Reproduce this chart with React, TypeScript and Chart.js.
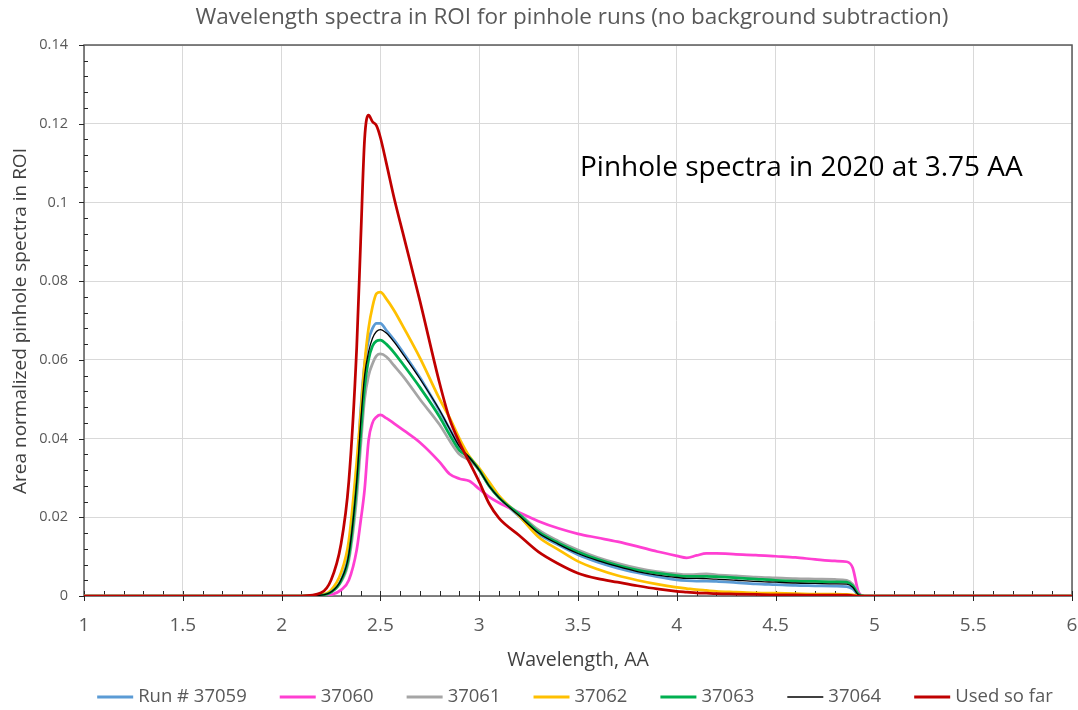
import React, { useEffect, useRef } from "react";
import { Chart, registerables } from "chart.js";
Chart.register(...registerables);

const WAVELENGTH = [1.0, 2.1, 2.2, 2.25, 2.3, 2.34, 2.38, 2.4, 2.42, 2.44, 2.46, 2.48, 2.5, 2.53, 2.57, 2.62, 2.7, 2.8, 2.85, 2.9, 2.95, 3.0, 3.05, 3.1, 3.2, 3.3, 3.4, 3.5, 3.6, 3.7, 3.8, 3.9, 4.0, 4.05, 4.1, 4.15, 4.2, 4.3, 4.4, 4.5, 4.6, 4.7, 4.8, 4.86, 4.89, 4.92, 4.95, 6.0];

const RUN_37059 = [0, 0, 0.0002, 0.001, 0.004, 0.011, 0.03, 0.047, 0.059, 0.065, 0.068, 0.0693, 0.0693, 0.0675, 0.065, 0.0615, 0.0555, 0.047, 0.0425, 0.038, 0.035, 0.0322, 0.028, 0.025, 0.0203, 0.0158, 0.013, 0.0105, 0.0086, 0.0071, 0.0059, 0.0049, 0.0041, 0.0039, 0.0038, 0.0038, 0.0037, 0.0034, 0.0031, 0.0029, 0.0027, 0.0026, 0.0025, 0.0024, 0.0018, 0.0003, 0, 0];
const RUN_37060 = [0, 0, 0, 0.0003, 0.0015, 0.004, 0.0117, 0.019, 0.027, 0.0395, 0.044, 0.0455, 0.046, 0.0452, 0.0438, 0.042, 0.039, 0.034, 0.031, 0.0298, 0.0292, 0.0272, 0.0252, 0.0237, 0.0213, 0.019, 0.0172, 0.0158, 0.0148, 0.0138, 0.0126, 0.0113, 0.0102, 0.0097, 0.0103, 0.0108, 0.0108, 0.0106, 0.0104, 0.0101, 0.0098, 0.0093, 0.0089, 0.0087, 0.0072, 0.001, 0, 0];
const RUN_37061 = [0, 0, 0.0002, 0.001, 0.0035, 0.009, 0.025, 0.038, 0.05, 0.056, 0.059, 0.061, 0.0615, 0.0608, 0.0585, 0.0555, 0.05, 0.0435, 0.0395, 0.036, 0.0345, 0.032, 0.028, 0.025, 0.021, 0.0168, 0.014, 0.0117, 0.0098, 0.0083, 0.0071, 0.0062, 0.0056, 0.0054, 0.0055, 0.0056, 0.0054, 0.0051, 0.0048, 0.0046, 0.0044, 0.0043, 0.0042, 0.004, 0.003, 0.0005, 0, 0];
const RUN_37062 = [0, 0, 0.0003, 0.0015, 0.0058, 0.014, 0.034, 0.046, 0.059, 0.068, 0.0735, 0.0768, 0.0772, 0.0755, 0.0725, 0.068, 0.0605, 0.05, 0.0453, 0.04, 0.0355, 0.0325, 0.029, 0.0255, 0.0205, 0.015, 0.0118, 0.0088, 0.0068, 0.0052, 0.004, 0.003, 0.0022, 0.0019, 0.0016, 0.0014, 0.0012, 0.001, 0.0008, 0.0007, 0.0006, 0.0005, 0.0005, 0.0004, 0.0003, 0.0001, 0, 0];
const RUN_37063 = [0, 0, 0.0002, 0.001, 0.0038, 0.01, 0.028, 0.041, 0.053, 0.06, 0.0635, 0.0648, 0.065, 0.064, 0.0618, 0.0585, 0.053, 0.0455, 0.041, 0.037, 0.0352, 0.032, 0.028, 0.025, 0.0208, 0.0163, 0.0135, 0.0112, 0.0093, 0.0078, 0.0066, 0.0058, 0.0052, 0.005, 0.005, 0.005, 0.0049, 0.0046, 0.0043, 0.004, 0.0038, 0.0037, 0.0036, 0.0035, 0.0026, 0.0004, 0, 0];
const RUN_37064 = [0, 0, 0.0002, 0.001, 0.004, 0.0105, 0.029, 0.044, 0.056, 0.062, 0.0655, 0.0672, 0.0677, 0.0668, 0.0645, 0.061, 0.0552, 0.0472, 0.0425, 0.038, 0.0352, 0.032, 0.028, 0.025, 0.0205, 0.016, 0.0132, 0.0108, 0.009, 0.0075, 0.0062, 0.0053, 0.0047, 0.0045, 0.0045, 0.0044, 0.0043, 0.004, 0.0037, 0.0035, 0.0033, 0.0032, 0.0031, 0.003, 0.0022, 0.0003, 0, 0];
const USED_SO_FAR = [0, 0, 0.0008, 0.004, 0.013, 0.029, 0.063, 0.09, 0.116, 0.1222, 0.1205, 0.1195, 0.1165, 0.11, 0.101, 0.091, 0.075, 0.054, 0.045, 0.039, 0.034, 0.029, 0.0235, 0.0198, 0.0155, 0.0112, 0.0082, 0.0058, 0.0044, 0.0035, 0.0026, 0.0018, 0.0012, 0.001, 0.0008, 0.0007, 0.0006, 0.0005, 0.0004, 0.0003, 0.0003, 0.0002, 0.0002, 0.0002, 0.0001, 0, 0, 0];

const SERIES_LABELS = ["Run # 37059", "37060", "37061", "37062", "37063", "37064", "Used so far"];
const SERIES_COLORS = ["#5B9BD5", "#FF3FD2", "#A5A5A5", "#FFC000", "#00B050", "#000000", "#C00000"];
const SERIES_WIDTHS = [2.75, 2.75, 2.75, 2.75, 2.75, 1.3, 2.75];

const TITLE = "Wavelength spectra in ROI for pinhole runs (no background subtraction)";
const X_TITLE = "Wavelength, AA";
const Y_TITLE = "Area normalized pinhole spectra in ROI";
const NOTE = "Pinhole spectra in 2020 at 3.75 AA";

const FONT = "'Open Sans', 'DejaVu Sans', sans-serif";

const decorPlugin = {
  id: "decor",
  beforeDatasetsDraw(chart: any) {
    const { ctx, chartArea: a, scales } = chart;
    const xs = scales.x;
    const ys = scales.y;
    ctx.save();
    ctx.strokeStyle = "#595959";
    ctx.lineWidth = 1.5;
    ctx.strokeRect(a.left, a.top, a.right - a.left, a.bottom - a.top);
    ctx.strokeStyle = "#262626";
    ctx.lineWidth = 1;
    ctx.beginPath();
    for (let k = 0; k <= 50; k++) {
      const px = Math.round(xs.getPixelForValue(1 + k * 0.1)) + 0.5;
      if (k % 5 === 0) {
        ctx.moveTo(px, a.bottom - 5);
        ctx.lineTo(px, a.bottom + 5);
      } else {
        ctx.moveTo(px, a.bottom - 5);
        ctx.lineTo(px, a.bottom);
      }
    }
    for (let k = 0; k <= 35; k++) {
      const py = Math.round(ys.getPixelForValue(k * 0.004)) + 0.5;
      if (k % 5 === 0) {
        ctx.moveTo(a.left - 5, py);
        ctx.lineTo(a.left, py);
      } else {
        ctx.moveTo(a.left, py);
        ctx.lineTo(a.left + 4, py);
      }
    }
    ctx.stroke();
    ctx.restore();
  },
  afterDraw(chart: any) {
    const { ctx } = chart;
    ctx.save();
    ctx.textBaseline = "middle";
    // title
    ctx.fillStyle = "#595959";
    ctx.font = `22.5px ${FONT}`;
    ctx.textAlign = "center";
    ctx.fillText(TITLE, 572, 18);
    // x title
    ctx.fillStyle = "#404040";
    ctx.font = `19.5px ${FONT}`;
    ctx.fillText(X_TITLE, 578, 660);
    // y title
    ctx.save();
    ctx.font = `19px ${FONT}`;
    ctx.translate(21, 321);
    ctx.rotate(-Math.PI / 2);
    ctx.fillText(Y_TITLE, 0, 0);
    ctx.restore();
    // note
    ctx.fillStyle = "#000000";
    ctx.font = `28px ${FONT}`;
    ctx.textAlign = "left";
    ctx.fillText(NOTE, 580, 168);
    // legend
    ctx.font = `18.5px ${FONT}`;
    const lineLen = 36;
    const gap = 5;
    const spacing = 33;
    const widths = SERIES_LABELS.map((t) => ctx.measureText(t).width);
    const total = widths.reduce((s, w) => s + lineLen + gap + w, 0) + spacing * (SERIES_LABELS.length - 1);
    let x = 575 - total / 2;
    const y = 697;
    SERIES_LABELS.forEach((t, i) => {
      ctx.strokeStyle = SERIES_COLORS[i];
      ctx.lineWidth = i === 5 ? 1.5 : 3;
      ctx.beginPath();
      ctx.moveTo(x, y);
      ctx.lineTo(x + lineLen, y);
      ctx.stroke();
      ctx.fillStyle = "#595959";
      ctx.fillText(t, x + lineLen + gap, y);
      x += lineLen + gap + widths[i] + spacing;
    });
    ctx.restore();
  },
};

export default function App() {
  const ref = useRef<HTMLCanvasElement>(null);
  useEffect(() => {
    document.body.style.margin = "0";
    const series = [RUN_37059, RUN_37060, RUN_37061, RUN_37062, RUN_37063, RUN_37064, USED_SO_FAR];
    const chart = new Chart(ref.current as HTMLCanvasElement, {
      type: "scatter",
      data: {
        datasets: series.map((ys, i) => ({
          label: SERIES_LABELS[i],
          data: WAVELENGTH.map((x, j) => ({ x, y: ys[j] })),
          showLine: true,
          borderColor: SERIES_COLORS[i],
          backgroundColor: SERIES_COLORS[i],
          borderWidth: SERIES_WIDTHS[i],
          pointRadius: 0,
          cubicInterpolationMode: "monotone",
          order: series.length - i,
        })),
      },
      options: {
        responsive: false,
        animation: false,
        devicePixelRatio: 1,
        layout: { padding: { top: 45, right: 6, left: 0, bottom: 0 } },
        plugins: { legend: { display: false }, tooltip: { enabled: false }, title: { display: false } },
        scales: {
          x: {
            type: "linear",
            min: 1,
            max: 6,
            afterFit: (s: any) => { s.height = 114; s.paddingLeft = 0; s.paddingRight = 0; },
            ticks: {
              stepSize: 0.5,
              color: "#595959",
              font: { family: FONT, size: 19 },
              padding: 18,
              callback: (v: any) => String(Number(Number(v).toFixed(2))),
            },
            grid: { color: "#D9D9D9", drawTicks: false },
            border: { display: false },
          },
          y: {
            min: 0,
            max: 0.14,
            afterFit: (s: any) => { s.width = 84; s.paddingTop = 0; s.paddingBottom = 0; },
            ticks: {
              stepSize: 0.02,
              color: "#595959",
              font: { family: FONT, size: 14.5 },
              padding: 16,
              callback: (v: any) => String(Number(Number(v).toFixed(2))),
            },
            grid: { color: "#D9D9D9", drawTicks: false },
            border: { display: false },
          },
        },
      },
      plugins: [decorPlugin],
    } as any);
    return () => chart.destroy();
  }, []);
  return (
    <div style={{ width: 1078, height: 710 }}>
      <canvas ref={ref} width={1078} height={710} style={{ display: "block" }} />
    </div>
  );
}
